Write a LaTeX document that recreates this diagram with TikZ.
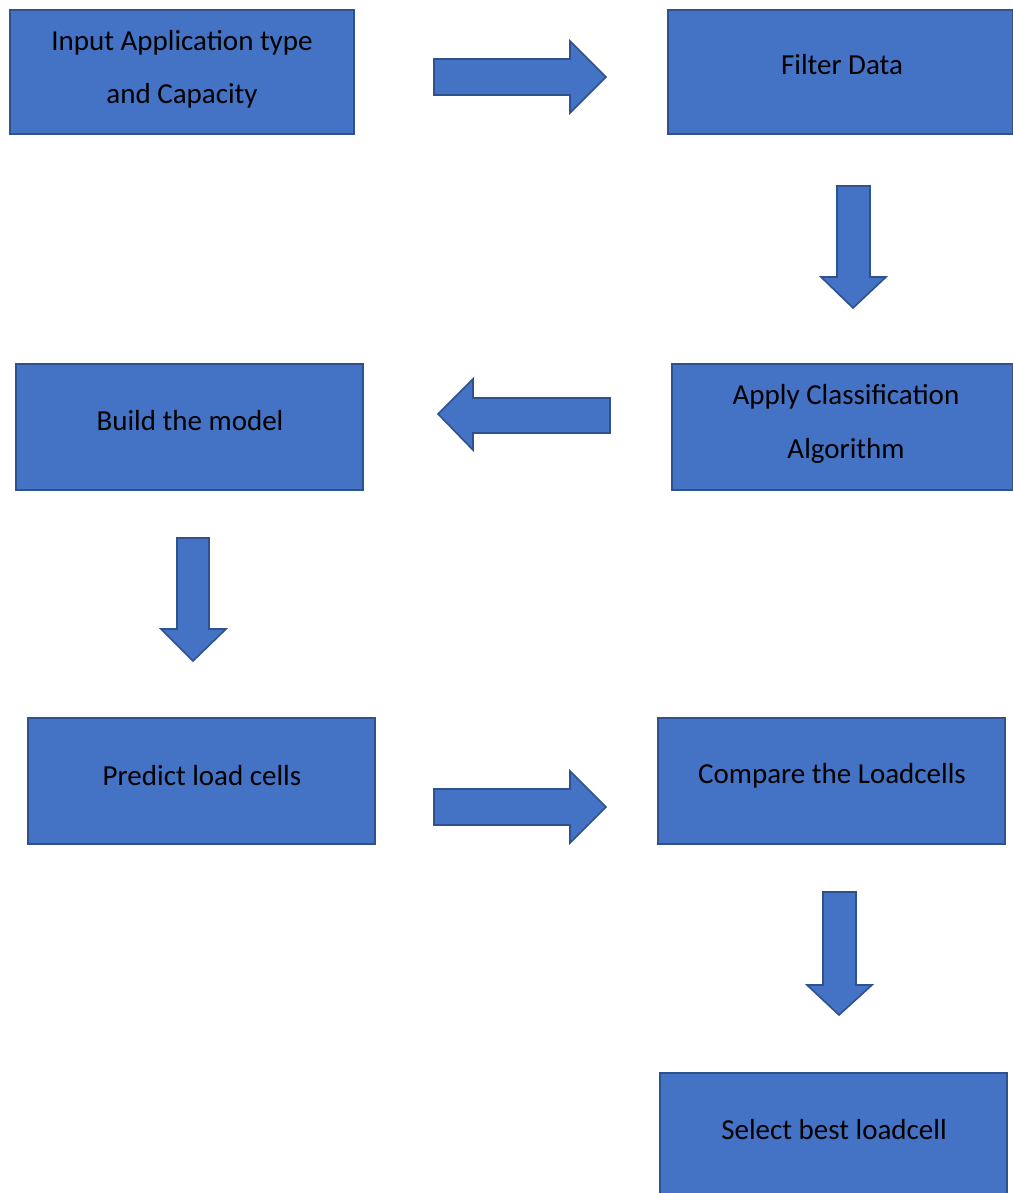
\documentclass[tikz,border=0pt]{standalone}
\usepackage{fontspec}
\setmainfont{Carlito}
\definecolor{boxfill}{HTML}{4472C4}
\definecolor{boxline}{HTML}{2F528F}
\begin{document}
\begin{tikzpicture}[x=1pt,y=-1pt,
  stage/.style={draw=boxline,fill=boxfill,line width=1.6pt,rectangle,inner sep=0pt,
    minimum width=347pt,minimum height=126pt},
  blockarrow/.style={draw=boxline,fill=boxfill,line width=1.6pt,line join=miter},
  caption/.style={font=\fontsize{29}{34}\selectfont,text=black,inner sep=0pt,yshift=-2pt}]
\useasboundingbox (0,0) rectangle (1012,1193);
% process boxes
\node[stage,minimum width=344pt,minimum height=124pt] (input) at (182,72) {};
\node[stage,minimum width=345pt,minimum height=124pt] (filter) at (840.5,72) {};
\node[stage,minimum width=341pt] (classify) at (842.5,427) {};
\node[stage] (build) at (189.5,427) {};
\node[stage] (predict) at (201.5,781) {};
\node[stage] (compare) at (831.5,781) {};
\node[stage,minimum height=124pt] (select) at (833.5,1135) {};
% captions
\node[caption] (t1a) at (182,41) {Input Application type};
\node[caption] (t1b) at (182,94) {and Capacity};
\node[caption] (t2) at (842,63) {Filter Data};
\node[caption] (t3a) at (846,395) {Apply Classification};
\node[caption] (t3b) at (846,449) {Algorithm};
\node[caption] (t4) at (190,419) {Build the model};
\node[caption] (t5) at (202,774) {Predict load cells};
\node[caption] (t6) at (832,774) {Compare the Loadcells};
\node[caption] (t7) at (834,1128) {Select best loadcell};
% block arrows between stages
\draw[blockarrow] (434,59) -- (570,59) -- (570,41) -- (606,77) -- (570,113) -- (570,95) -- (434,95) -- cycle;
\draw[blockarrow] (837,186) -- (870,186) -- (870,277) -- (886,277) -- (853,308) -- (821,277) -- (837,277) -- cycle;
\draw[blockarrow] (610,398) -- (473,398) -- (473,379) -- (438,414) -- (473,450) -- (473,433) -- (610,433) -- cycle;
\draw[blockarrow] (177,538) -- (209,538) -- (209,629) -- (226,629) -- (193,661) -- (161,629) -- (177,629) -- cycle;
\draw[blockarrow] (434,789) -- (570,789) -- (570,771) -- (606,807) -- (570,843) -- (570,825) -- (434,825) -- cycle;
\draw[blockarrow] (823,892) -- (856,892) -- (856,985) -- (872,985) -- (839,1015) -- (807,985) -- (823,985) -- cycle;
\end{tikzpicture}
\end{document}
